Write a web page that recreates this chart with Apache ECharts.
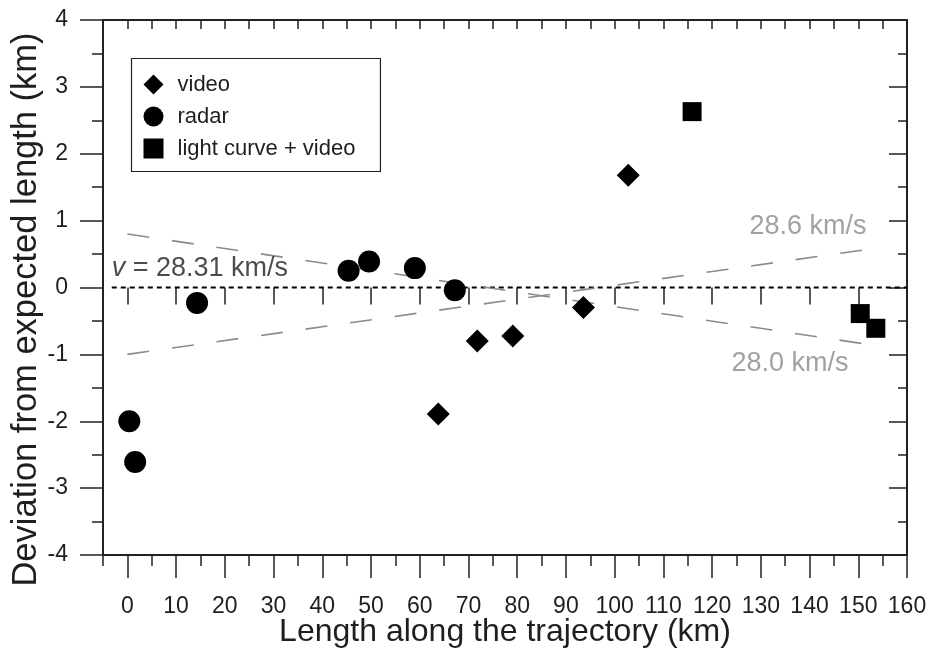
<!DOCTYPE html>
<html>
<head>
<meta charset="utf-8">
<script src="https://cdn.jsdelivr.net/npm/echarts@6/dist/echarts.min.js"></script>
<style>
html,body{margin:0;padding:0;background:#fff;}
#chart{width:931px;height:653px;}
</style>
</head>
<body>
<div id="chart"></div>
<script>
// ---- data ----
const videoX = [63.8, 71.8, 79.1, 93.6, 102.8];
const videoY = [-1.89, -0.80, -0.725, -0.30, 1.68];
const radarX = [0.4, 1.6, 14.3, 45.4, 49.6, 59.0, 67.2];
const radarY = [-2.0, -2.61, -0.23, 0.25, 0.39, 0.29, -0.04];
const lcX = [115.9, 150.4, 153.6];
const lcY = [2.63, -0.39, -0.61];
// reference velocity lines (v = 28.31 km/s, 28.6 km/s, 28.0 km/s)
const refX = [-3.2, 160];
const refY = [0, 0];
const v286X = [0, 152];
const v286Y = [-1.0, 0.57];
const v280X = [0, 152];
const v280Y = [0.80, -0.85];
// annotation anchors
const annoNames = ['v', '28.6 km/s', '28.0 km/s'];
const annoX = [-3.2, 151.7, 148.0];
const annoY = [0.29, 0.91, -1.13];
// axes
const xMin = -5, xMax = 160;
const yMin = -4, yMax = 4;
const xMajorTicks = [0, 10, 20, 30, 40, 50, 60, 70, 80, 90, 100, 110, 120, 130, 140, 150, 160];

const zip = (a, b) => a.map((v, i) => [v, b[i]]);
const FONT = '"Liberation Sans", Arial, sans-serif';
const TXT = '#1e1e1e';
const AX = '#222';

const chart = echarts.init(document.getElementById('chart'), null, {renderer: 'canvas'});

const baseX = {
  type: 'value', min: xMin, max: xMax, interval: 5,
  splitLine: {show: false},
  axisLine: {show: false},
  axisLabel: {show: false},
  axisTick: {show: false}
};

const option = {
  backgroundColor: '#fff',
  animation: false,
  textStyle: {fontFamily: FONT},
  grid: {left: 103, right: 24, top: 20, bottom: 98, containLabel: false, outerBoundsMode: 'none'},
  legend: {
    orient: 'vertical',
    left: 131.5, top: 58.5,
    padding: [15, 25, 12, 12],
    itemGap: 10,
    itemWidth: 20, itemHeight: 20,
    borderColor: '#222', borderWidth: 1.2,
    textStyle: {fontFamily: FONT, fontSize: 22, color: TXT, padding: [0, 0, 0, 9]},
    data: [
      {name: 'video', icon: 'diamond'},
      {name: 'radar', icon: 'circle'},
      {name: 'light curve + video', icon: 'rect'}
    ]
  },
  xAxis: [
    // bottom: axis line + minor ticks
    Object.assign({}, baseX, {
      position: 'bottom',
      axisLine: {show: true, onZero: false, lineStyle: {color: AX, width: 2}},
      axisTick: {show: true, inside: false, length: 11, lineStyle: {color: AX, width: 1.5}}
    }),
    // bottom: major ticks + labels
    Object.assign({}, baseX, {
      position: 'bottom',
      name: 'Length along the trajectory (km)',
      nameLocation: 'middle', nameGap: 77, nameMoveOverlap: false,
      nameTextStyle: {fontFamily: FONT, fontSize: 32, color: TXT, verticalAlign: 'middle'},
      axisLine: {show: false, onZero: false},
      axisTick: {show: true, inside: false, length: 23, customValues: xMajorTicks, lineStyle: {color: AX, width: 1.5}},
      axisLabel: {show: true, margin: 40, customValues: xMajorTicks, fontFamily: FONT, fontSize: 23, color: TXT}
    }),
    // top: axis line + minor ticks
    Object.assign({}, baseX, {
      position: 'top',
      axisLine: {show: true, onZero: false, lineStyle: {color: AX, width: 2}},
      axisTick: {show: true, inside: true, length: 9, lineStyle: {color: AX, width: 1.5}}
    }),
    // top: major ticks
    Object.assign({}, baseX, {
      position: 'top',
      axisTick: {show: true, inside: true, length: 17, customValues: xMajorTicks, lineStyle: {color: AX, width: 1.5}}
    })
  ],
  yAxis: [
    {
      type: 'value', min: yMin, max: yMax, interval: 1, position: 'left',
      name: 'Deviation from expected length (km)',
      nameLocation: 'middle', nameGap: 77, nameMoveOverlap: false,
      nameTextStyle: {fontFamily: FONT, fontSize: 34.5, color: TXT, verticalAlign: 'middle', padding: [0, 44, 0, 0]},
      splitLine: {show: false},
      axisLine: {show: true, onZero: false, lineStyle: {color: AX, width: 2}},
      axisTick: {show: true, inside: false, length: 23, lineStyle: {color: AX, width: 1.5}},
      minorTick: {show: true, splitNumber: 2, length: 11, lineStyle: {color: AX, width: 1.5}},
      minorSplitLine: {show: false},
      axisLabel: {show: true, margin: 35, fontFamily: FONT, fontSize: 23, color: TXT}
    },
    {
      type: 'value', min: yMin, max: yMax, interval: 1, position: 'right',
      splitLine: {show: false},
      axisLine: {show: true, onZero: false, lineStyle: {color: AX, width: 2}},
      axisTick: {show: true, inside: true, length: 18, lineStyle: {color: AX, width: 1.5}},
      minorTick: {show: true, splitNumber: 2, length: 9, lineStyle: {color: AX, width: 1.5}},
      minorSplitLine: {show: false},
      axisLabel: {show: false}
    }
  ],
  series: [
    {
      name: 'v28.31', type: 'line', xAxisIndex: 0, yAxisIndex: 0,
      data: zip(refX, refY), symbol: 'none', silent: true,
      lineStyle: {color: '#000', width: 2, type: [5, 4]}, z: 1
    },
    {
      name: 'v28.6', type: 'line', xAxisIndex: 0, yAxisIndex: 0,
      data: zip(v286X, v286Y), symbol: 'none', silent: true,
      lineStyle: {color: '#8a8a8a', width: 1.6, type: [22, 23]}, z: 1
    },
    {
      name: 'v28.0', type: 'line', xAxisIndex: 0, yAxisIndex: 0,
      data: zip(v280X, v280Y), symbol: 'none', silent: true,
      lineStyle: {color: '#8a8a8a', width: 1.6, type: [22, 23]}, z: 1
    },
    {
      name: 'video', type: 'scatter', xAxisIndex: 0, yAxisIndex: 0,
      data: zip(videoX, videoY), symbol: 'diamond', symbolSize: 23,
      itemStyle: {color: '#000', opacity: 1}, z: 3
    },
    {
      name: 'radar', type: 'scatter', xAxisIndex: 0, yAxisIndex: 0,
      data: zip(radarX, radarY), symbol: 'circle', symbolSize: 22,
      itemStyle: {color: '#000', opacity: 1}, z: 3
    },
    {
      name: 'light curve + video', type: 'scatter', xAxisIndex: 0, yAxisIndex: 0,
      data: zip(lcX, lcY), symbol: 'rect', symbolSize: 19,
      itemStyle: {color: '#000', opacity: 1}, z: 3
    },
    {
      name: 'annotations', type: 'scatter', xAxisIndex: 0, yAxisIndex: 0,
      symbolSize: 0, silent: true, z: 4,
      data: annoNames.map((n, i) => {
        const isV = i === 0;
        return {
          name: n, value: [annoX[i], annoY[i]],
          label: {
            show: true, position: [0, 0],
            align: isV ? 'left' : 'right', verticalAlign: 'middle',
            fontFamily: FONT, fontSize: 27,
            color: isV ? TXT : '#8a8a8a',
            formatter: isV ? '{i|v} = 28.31 km/s' : n,
            rich: {i: {fontStyle: 'italic', fontFamily: FONT, fontSize: 27, color: TXT}}
          }
        };
      })
    }
  ]
};
chart.setOption(option);
</script>
</body>
</html>
